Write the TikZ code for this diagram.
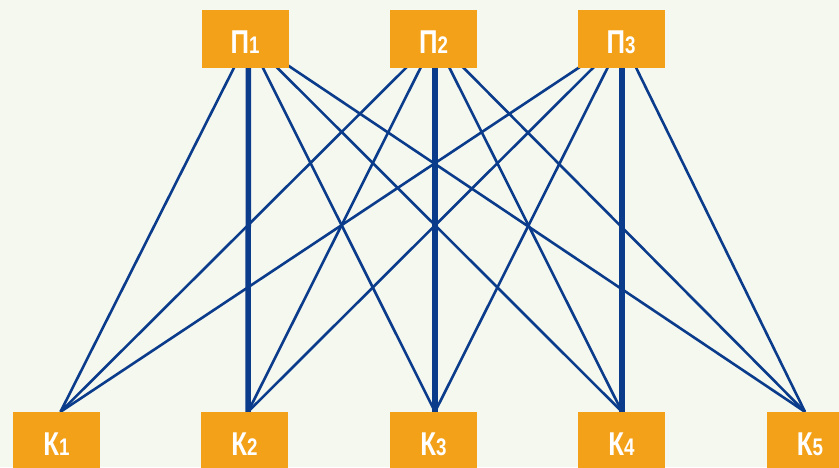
\documentclass[tikz,border=0pt]{standalone}
\usepackage{fontspec}
\newfontfamily\lblfont[FakeStretch=0.78]{Liberation Sans}
\usetikzlibrary{backgrounds}
\definecolor{bgc}{HTML}{F5F8EF}
\definecolor{boxc}{HTML}{F4A11A}
\definecolor{edgec}{HTML}{0B3C8C}
\newcommand{\lbl}[2]{#1{\fontsize{24}{24}\selectfont #2}}
\begin{document}
\begin{tikzpicture}[x=1pt,y=-1pt,
  vbox/.style={fill=boxc, minimum width=87pt, minimum height=58pt, inner sep=0pt,
    text height=28pt, text depth=0pt,
    text=white, font=\lblfont\bfseries\fontsize{33}{33}\selectfont},
  thinedge/.style={draw=edgec, line width=2.6pt},
  thickedge/.style={draw=edgec, line width=5.5pt}]
\useasboundingbox (0,0) rectangle (839,467);
\node[vbox] (P1) at (245,39) {\lbl{П}{1}};
\node[vbox] (P2) at (433.5,39) {\lbl{П}{2}};
\node[vbox] (P3) at (621,39) {\lbl{П}{3}};
\node[vbox] (K1) at (56.5,441) {\lbl{К}{1}};
\node[vbox] (K2) at (244.5,441) {\lbl{К}{2}};
\node[vbox] (K3) at (433.5,441) {\lbl{К}{3}};
\node[vbox] (K4) at (621.5,441) {\lbl{К}{4}};
\node[vbox] (K5) at (810,441) {\lbl{К}{5}};
\begin{scope}[on background layer]
\fill[bgc] (0,0) rectangle (839,467);
% from P1
\draw[thinedge]  ([xshift=3.5pt]P1.center) -- ([xshift=4pt]K1.north);
\draw[thickedge] ([xshift=3.5pt]P1.center) -- ([xshift=3.5pt]K2.north);
\draw[thinedge]  ([xshift=3.5pt]P1.center) -- ([xshift=1.5pt]K3.north);
\draw[thinedge]  ([xshift=3.5pt]P1.center) -- ([xshift=0.5pt]K4.north);
\draw[thinedge]  ([xshift=3.5pt]P1.center) -- ([xshift=-5pt]K5.north);
% from P2
\draw[thinedge]  ([xshift=1.5pt]P2.center) -- ([xshift=4pt]K1.north);
\draw[thinedge]  ([xshift=1.5pt]P2.center) -- ([xshift=3.5pt]K2.north);
\draw[thickedge] ([xshift=1.5pt]P2.center) -- ([xshift=1.5pt]K3.north);
\draw[thinedge]  ([xshift=1.5pt]P2.center) -- ([xshift=0.5pt]K4.north);
\draw[thinedge]  ([xshift=1.5pt]P2.center) -- ([xshift=-5pt]K5.north);
% from P3
\draw[thinedge]  ([xshift=1pt]P3.center) -- ([xshift=4pt]K1.north);
\draw[thinedge]  ([xshift=1pt]P3.center) -- ([xshift=3.5pt]K2.north);
\draw[thinedge]  ([xshift=1pt]P3.center) -- ([xshift=1.5pt]K3.north);
\draw[thickedge] ([xshift=1pt]P3.center) -- ([xshift=0.5pt]K4.north);
\draw[thinedge]  ([xshift=1pt]P3.center) -- ([xshift=-5pt]K5.north);
\end{scope}
\end{tikzpicture}
\end{document}
